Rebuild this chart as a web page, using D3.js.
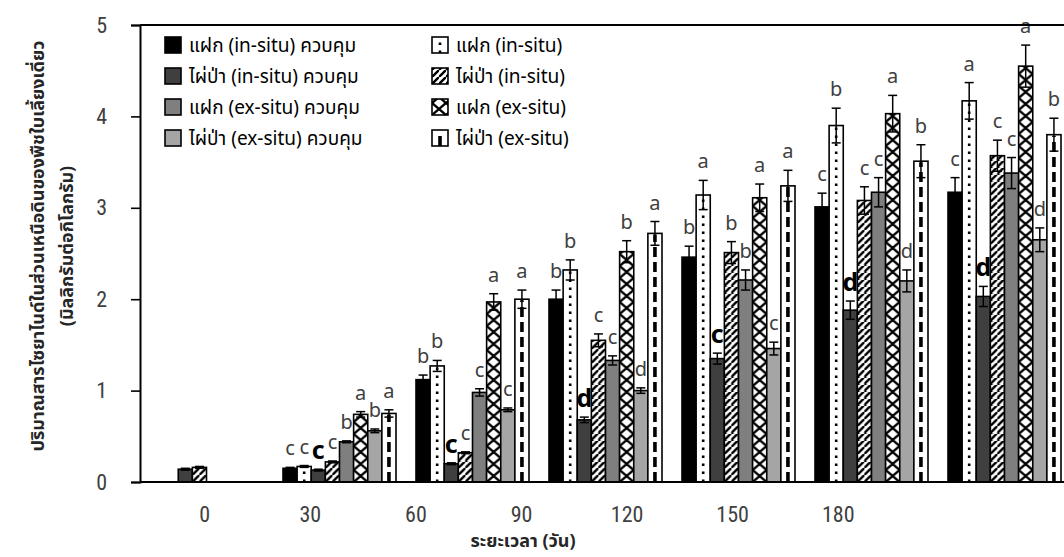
<!DOCTYPE html>
<html>
<head>
<meta charset="utf-8">
<script src="https://cdn.jsdelivr.net/npm/d3@7"></script>
<style>
  body { margin: 0; background: #fff; }
  svg { display: block; }
</style>
</head>
<body>
<svg id="chart" width="1064" height="557"></svg>
<script>
// Sampling days
const days = ["0", "30", "60", "90", "120", "150", "180"];

// Series names (legend text)
const seriesNames = [
  "แฝก (in-situ) ควบคุม",
  "แฝก (in-situ)",
  "ไผ่ป่า (in-situ) ควบคุม",
  "ไผ่ป่า (in-situ)",
  "แฝก (ex-situ) ควบคุม",
  "แฝก (ex-situ)",
  "ไผ่ป่า (ex-situ) ควบคุม",
  "ไผ่ป่า (ex-situ)"
];

// Mean cyanide content (mg/kg), one array per series, by day
const vetiverInSituCtrl   = [0,    0.15, 1.12, 2.00, 2.46, 3.01, 3.17];
const vetiverInSitu       = [0,    0.17, 1.27, 2.32, 3.14, 3.90, 4.17];
const bambooInSituCtrl    = [0.14, 0.13, 0.20, 0.68, 1.35, 1.88, 2.03];
const bambooInSitu        = [0.16, 0.22, 0.32, 1.55, 2.51, 3.08, 3.57];
const vetiverExSituCtrl   = [0,    0.44, 0.98, 1.33, 2.21, 3.17, 3.38];
const vetiverExSitu       = [0,    0.74, 1.97, 2.52, 3.11, 4.03, 4.55];
const bambooExSituCtrl    = [0,    0.56, 0.79, 1.00, 1.46, 2.20, 2.65];
const bambooExSitu        = [0,    0.75, 2.00, 2.72, 3.24, 3.51, 3.80];

// Standard errors
const vetiverInSituCtrlErr = [0, 0.01, 0.05, 0.10, 0.12, 0.15, 0.16];
const vetiverInSituErr     = [0, 0.01, 0.06, 0.11, 0.16, 0.19, 0.20];
const bambooInSituCtrlErr  = [0.01, 0.01, 0.01, 0.03, 0.06, 0.10, 0.11];
const bambooInSituErr      = [0.01, 0.01, 0.01, 0.07, 0.12, 0.15, 0.17];
const vetiverExSituCtrlErr = [0, 0.01, 0.04, 0.05, 0.11, 0.16, 0.17];
const vetiverExSituErr     = [0, 0.03, 0.09, 0.12, 0.15, 0.20, 0.23];
const bambooExSituCtrlErr  = [0, 0.02, 0.02, 0.03, 0.07, 0.12, 0.13];
const bambooExSituErr      = [0, 0.04, 0.10, 0.13, 0.17, 0.18, 0.18];

// Significance letters
const vetiverInSituCtrlSig = ["", "c", "b", "b", "b", "c", "c"];
const vetiverInSituSig     = ["", "c", "b", "b", "a", "b", "a"];
const bambooInSituCtrlSig  = ["", "c", "c", "d", "c", "d", "d"];
const bambooInSituSig      = ["", "c", "c", "c", "b", "c", "c"];
const vetiverExSituCtrlSig = ["", "b", "c", "c", "b", "c", "c"];
const vetiverExSituSig     = ["", "a", "a", "b", "a", "a", "a"];
const bambooExSituCtrlSig  = ["", "b", "c", "d", "c", "d", "d"];
const bambooExSituSig      = ["", "a", "a", "a", "a", "b", "b"];

const yTicks = [0, 1, 2, 3, 4, 5];

const values  = [vetiverInSituCtrl, vetiverInSitu, bambooInSituCtrl, bambooInSitu,
                 vetiverExSituCtrl, vetiverExSitu, bambooExSituCtrl, bambooExSitu];
const errors  = [vetiverInSituCtrlErr, vetiverInSituErr, bambooInSituCtrlErr, bambooInSituErr,
                 vetiverExSituCtrlErr, vetiverExSituErr, bambooExSituCtrlErr, bambooExSituErr];
const letters = [vetiverInSituCtrlSig, vetiverInSituSig, bambooInSituCtrlSig, bambooInSituSig,
                 vetiverExSituCtrlSig, vetiverExSituSig, bambooExSituCtrlSig, bambooExSituSig];

// Visual style of each series: solid fills for controls, patterns for treatments
const styles = [
  { fill: "#000000" },
  { deco: "dots" },
  { fill: "#3f3f3f", strong: true },
  { deco: "diag" },
  { fill: "#7f7f7f" },
  { deco: "cross" },
  { fill: "#a5a5a5" },
  { deco: "dash" }
];

const thaiFont = "'Noto Sans Thai', 'Noto Sans Thai UI', Tahoma, 'Noto Sans', 'DejaVu Sans', sans-serif";
const numFont = "'Liberation Sans Narrow', 'Roboto Condensed', 'Liberation Sans', sans-serif";

const svg = d3.select("#chart");
const defs = svg.append("defs");

const plotLeft = 140, plotRight = 1071, plotTop = 25, plotBottom = 482;

const y = d3.scaleLinear().domain([0, 5]).range([plotBottom, plotTop]);
const x0 = d3.scaleBand().domain(days).range([plotLeft, plotRight])
  .paddingInner(20 / 133).paddingOuter(10 / 133);
const x1 = d3.scaleBand().domain(d3.range(8)).range([0, x0.bandwidth()]);
// category labels sit on their own band scale
const xLabel = d3.scaleBand().domain(days).range([152, 891]);

// flatten to bar records
const bars = [];
days.forEach((d, gi) => {
  values.forEach((arr, si) => {
    bars.push({ day: d, gi, si, v: arr[gi], e: errors[si][gi], t: letters[si][gi] });
  });
});

// patterns anchored at each bar's left edge
function addPattern(id, kind, x0px, y0px) {
  if (kind === "diag") {
    const p = defs.append("pattern").attr("id", id).attr("patternUnits", "userSpaceOnUse")
      .attr("x", x0px).attr("y", y0px).attr("width", 7).attr("height", 7);
    p.append("rect").attr("width", 7).attr("height", 7).attr("fill", "#fff");
    p.append("path").attr("d", "M-1,8 L8,-1 M-2,1 L1,-2 M6,9 L9,6")
      .attr("stroke", "#000").attr("stroke-width", 2.4);
  } else if (kind === "cross") {
    const s = 14;
    const p = defs.append("pattern").attr("id", id).attr("patternUnits", "userSpaceOnUse")
      .attr("x", x0px).attr("y", y0px).attr("width", s).attr("height", 12);
    p.append("rect").attr("width", s).attr("height", 12).attr("fill", "#fff");
    p.append("path").attr("d", `M0,0 L${s},12 M${s},0 L0,12`)
      .attr("stroke", "#000").attr("stroke-width", 2.4);
  }
}

// draws one bar (or legend swatch) into group g
function drawBar(g, id, st, bx, top, w, h) {
  let fill = st.fill || "#fff";
  if (st.deco === "diag" || st.deco === "cross") {
    addPattern(id, st.deco, bx, top + h);
    fill = `url(#${id})`;
  }
  g.append("rect").attr("x", bx).attr("y", top).attr("width", w).attr("height", h)
    .attr("fill", fill);
  if (st.deco === "dots" || st.deco === "dash") {
    g.append("line")
      .attr("x1", bx + w / 2).attr("x2", bx + w / 2)
      .attr("y1", top + h).attr("y2", top + 1)
      .attr("stroke", "#000")
      .attr("stroke-width", st.deco === "dots" ? 2.6 : 3.6)
      .attr("stroke-dasharray", st.deco === "dots" ? "2.6,5.4" : "10,5");
  }
  g.append("rect").attr("x", bx).attr("y", top).attr("width", w).attr("height", h)
    .attr("fill", "none").attr("stroke", "#000").attr("stroke-width", 1.6);
}

// bars
const barLayer = svg.append("g");
bars.filter(b => b.v > 0).forEach(b => {
  const bx = x0(b.day) + x1(b.si);
  const w = x1.bandwidth();
  const top = y(b.v);
  drawBar(barLayer.append("g"), `pat-bar-${b.gi}-${b.si}`, styles[b.si], bx, top, w, y(0) - top);
});

// error bars
const errLayer = svg.append("g").attr("stroke", "#000").attr("stroke-width", 1.5).attr("fill", "none");
bars.filter(b => b.v > 0 && b.e > 0).forEach(b => {
  const cx = x0(b.day) + x1(b.si) + x1.bandwidth() / 2;
  const yHi = y(b.v + b.e), yLo = y(b.v - b.e);
  errLayer.append("line").attr("x1", cx).attr("x2", cx).attr("y1", yHi).attr("y2", yLo);
  errLayer.append("line").attr("x1", cx - 4.5).attr("x2", cx + 4.5).attr("y1", yHi).attr("y2", yHi);
  errLayer.append("line").attr("x1", cx - 4.5).attr("x2", cx + 4.5).attr("y1", yLo).attr("y2", yLo);
});

// significance letters
svg.append("g").selectAll("text")
  .data(bars.filter(b => b.t))
  .join("text")
  .attr("x", b => x0(b.day) + x1(b.si) + x1.bandwidth() / 2)
  .attr("y", b => y(b.v + b.e) - (styles[b.si].strong ? 10 : 12))
  .attr("text-anchor", "middle")
  .attr("font-family", "'Noto Sans', 'Open Sans', sans-serif")
  .attr("font-size", b => styles[b.si].strong ? 25 : 20)
  .attr("font-weight", b => styles[b.si].strong ? 700 : 400)
  .attr("fill", b => styles[b.si].strong ? "#000" : "#404040")
  .text(b => b.t);

// frame: top border and baseline
svg.append("line").attr("x1", plotLeft).attr("x2", 1064).attr("y1", plotTop).attr("y2", plotTop)
  .attr("stroke", "#000").attr("stroke-width", 2);
svg.append("line").attr("x1", plotLeft).attr("x2", 1064).attr("y1", plotBottom).attr("y2", plotBottom)
  .attr("stroke", "#000").attr("stroke-width", 2);

// y axis
const yAxis = svg.append("g").attr("transform", `translate(${plotLeft},0)`)
  .call(d3.axisLeft(y).tickValues(yTicks).tickSize(9).tickPadding(24).tickFormat(d3.format("d")));
yAxis.select(".domain").attr("stroke", "#000").attr("stroke-width", 2);
yAxis.selectAll(".tick line").attr("stroke", "#000").attr("stroke-width", 1.6);
yAxis.selectAll(".tick text").attr("font-family", numFont).attr("font-size", 22)
  .attr("fill", "#404040");

// x category labels
const xAxis = svg.append("g").attr("transform", `translate(0,${plotBottom})`)
  .call(d3.axisBottom(xLabel).tickSize(0).tickPadding(24));
xAxis.select(".domain").remove();
xAxis.selectAll(".tick text").attr("font-family", numFont).attr("font-size", 22)
  .attr("fill", "#404040");

// axis titles
svg.append("text").attr("x", 523).attr("y", 547).attr("text-anchor", "middle")
  .attr("font-family", thaiFont).attr("font-size", 18).attr("font-weight", 700)
  .attr("fill", "#262626").text("ระยะเวลา (วัน)");

const yTitle = svg.append("g").attr("transform", "translate(0,246) rotate(-90)")
  .attr("font-family", thaiFont).attr("font-size", 18).attr("font-weight", 700)
  .attr("fill", "#262626").attr("text-anchor", "middle");
yTitle.append("text").attr("x", 0).attr("y", 44).text("ปริมาณสารไซยาไนด์ในส่วนเหนือดินของพืชใบเลี้ยงเดี่ยว");
yTitle.append("text").attr("x", 0).attr("y", 73).text("(มิลลิกรัมต่อกิโลกรัม)");

// legend: two columns of four
const legendRows = [45, 76, 107, 138];
const legendCols = [165, 432];
const legend = svg.append("g");
seriesNames.forEach((name, si) => {
  const col = si % 2;
  const row = Math.floor(si / 2);
  const lx = legendCols[col], ly = legendRows[row];
  const g = legend.append("g");
  drawBar(g, `pat-leg-${si}`, styles[si], lx, ly - 8, 16, 16);
  g.append("text").attr("x", lx + 24).attr("y", ly).attr("dy", "0.35em")
    .attr("font-family", thaiFont).attr("font-size", 19).attr("fill", "#000").text(name);
});
</script>
</body>
</html>
